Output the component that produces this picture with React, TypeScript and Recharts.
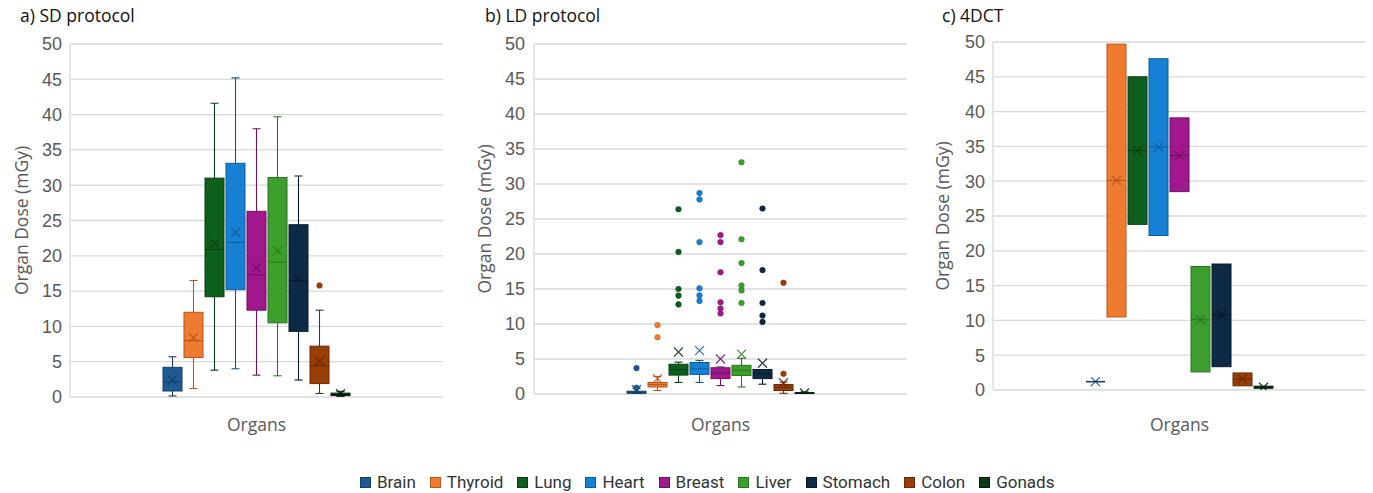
import React from 'react';
import { ComposedChart, Bar, XAxis, YAxis, CartesianGrid } from 'recharts';

const organs = ['Brain', 'Thyroid', 'Lung', 'Heart', 'Breast', 'Liver', 'Stomach', 'Colon', 'Gonads'];
const fills = ['#1F5A94', '#EE7B30', '#0E5E1E', '#1680D4', '#A0188C', '#3C9E2C', '#0F2A45', '#9A3D06', '#0C3A17'];
const strokes = ['#163F66', '#B8561C', '#083C12', '#0E5A99', '#6F0F61', '#2A731D', '#07182A', '#6A2904', '#051F0B'];
const yTicks = [0, 5, 10, 15, 20, 25, 30, 35, 40, 45, 50];

// a) SD protocol
const sdMin = [0.15, 1.2, 3.8, 4.0, 3.1, 3.0, 2.4, 0.5, 0.1];
const sdQ1 = [0.85, 5.6, 14.2, 15.2, 12.3, 10.5, 9.3, 1.9, 0.2];
const sdMedian = [2.1, 8.0, 20.9, 21.9, 17.3, 19.1, 16.5, 4.4, 0.35];
const sdQ3 = [4.2, 12.0, 31.0, 33.1, 26.3, 31.1, 24.4, 7.2, 0.55];
const sdMax = [5.7, 16.5, 41.6, 45.2, 38.0, 39.7, 31.3, 12.3, 0.8];
const sdMean = [2.4, 8.4, 21.8, 23.3, 18.3, 20.7, 16.8, 5.1, 0.45];
const sdOutliers = [[], [], [], [], [], [], [], [15.8], []];

// b) LD protocol
const ldMin = [0.05, 0.5, 1.65, 1.65, 1.2, 1.0, 1.4, 0.1, 0.0];
const ldQ1 = [0.1, 1.0, 2.7, 2.8, 2.2, 2.65, 2.2, 0.5, 0.05];
const ldMedian = [0.2, 1.35, 3.5, 3.6, 3.0, 3.4, 2.9, 0.9, 0.1];
const ldQ3 = [0.4, 1.65, 4.25, 4.5, 3.75, 4.1, 3.5, 1.35, 0.2];
const ldMax = [0.8, 2.5, 4.55, 4.8, 3.85, 5.1, 3.5, 1.7, 0.3];
const ldMean = [0.6, 2.2, 6.0, 6.2, 5.0, 5.7, 4.4, 1.6, 0.15];
const ldOutliers = [
  [3.7, 0.9],
  [9.85, 8.1],
  [26.4, 20.3, 15.0, 14.05, 12.8],
  [28.7, 27.8, 21.7, 15.1, 14.1, 13.3],
  [22.7, 21.7, 17.4, 13.1, 12.2, 11.5],
  [33.1, 22.1, 18.7, 15.5, 14.8, 13.0],
  [26.5, 17.7, 13.0, 11.2, 10.3],
  [15.9, 2.9],
  [],
];

// c) 4DCT
const ctLow = [1.2, 10.5, 23.8, 22.2, 28.5, 2.6, 3.35, 0.6, 0.25];
const ctMid = [1.2, 30.1, 34.4, 34.9, 33.7, 10.1, 10.8, 1.6, 0.4];
const ctHigh = [1.2, 49.7, 45.0, 47.6, 39.1, 17.75, 18.1, 2.45, 0.55];

type Row = {
  organ: string; min: number; q1: number; median: number; q3: number; max: number; mean: number;
  outliers: number[]; top: number; fill: string; stroke: string;
};

function buildRows(min: number[], q1: number[], median: number[], q3: number[], max: number[], mean: number[], outliers: number[][]): Row[] {
  return organs.map((organ, i) => ({
    organ,
    min: min[i], q1: q1[i], median: median[i], q3: q3[i], max: max[i], mean: mean[i],
    outliers: outliers[i],
    top: Math.max(max[i], mean[i], q3[i], ...outliers[i]),
    fill: fills[i], stroke: strokes[i],
  }));
}

const sdRows = buildRows(sdMin, sdQ1, sdMedian, sdQ3, sdMax, sdMean, sdOutliers);
const ldRows = buildRows(ldMin, ldQ1, ldMedian, ldQ3, ldMax, ldMean, ldOutliers);
const ctRows = buildRows(ctLow, ctLow, ctMid, ctHigh, ctHigh, ctMid, organs.map(() => []));

const BoxShape = (props: any) => {
  const { x, y, width, height, payload } = props;
  const p: Row = payload;
  if (!p || !p.top) return null;
  const k = height / p.top;
  const base = y + height;
  const Y = (v: number) => base - v * k;
  const cx = x + width / 2;
  const cap = 4;
  const m = 4.5;
  const yq1 = Y(p.q1);
  const yq3 = Y(p.q3);
  const boxH = Math.max(yq1 - yq3, 0);
  return (
    <g>
      {p.max > p.q3 && (
        <g stroke={p.stroke} strokeWidth={1.1}>
          <line x1={cx} x2={cx} y1={Y(p.max)} y2={yq3} />
          <line x1={cx - cap} x2={cx + cap} y1={Y(p.max)} y2={Y(p.max)} />
        </g>
      )}
      {p.min < p.q1 && (
        <g stroke={p.stroke} strokeWidth={1.1}>
          <line x1={cx} x2={cx} y1={yq1} y2={Y(p.min)} />
          <line x1={cx - cap} x2={cx + cap} y1={Y(p.min)} y2={Y(p.min)} />
        </g>
      )}
      {boxH > 0.5 ? (
        <rect x={x} y={yq3} width={width} height={boxH} fill={p.fill} stroke={p.stroke} strokeWidth={1} />
      ) : (
        <line x1={x} x2={x + width} y1={yq1} y2={yq1} stroke={p.stroke} strokeWidth={1.5} />
      )}
      <line x1={x} x2={x + width} y1={Y(p.median)} y2={Y(p.median)} stroke={p.stroke} strokeWidth={1} />
      <g stroke={p.stroke} strokeWidth={1.3} opacity={0.85}>
        <line x1={cx - m} x2={cx + m} y1={Y(p.mean) - m} y2={Y(p.mean) + m} />
        <line x1={cx - m} x2={cx + m} y1={Y(p.mean) + m} y2={Y(p.mean) - m} />
      </g>
      {p.outliers.map((o, j) => (
        <circle key={j} cx={cx} cy={Y(o)} r={2.8} fill={p.fill} stroke={p.stroke} strokeWidth={0.5} />
      ))}
    </g>
  );
};

const tickStyle = { fill: '#595959', fontSize: 18, fontFamily: '"Liberation Sans", Arial, sans-serif' };
const labelFont = '"Open Sans", "Noto Sans", sans-serif';

type PanelProps = {
  rows: Row[]; left: number; width: number; yAxisWidth: number; right: number; top: number; plotBottom: number;
  title: string; titleLeft: number; yLabelX: number; tickMargin: number;
};

function Panel({ rows, left, width, yAxisWidth, right, top, plotBottom, title, titleLeft, yLabelX, tickMargin }: PanelProps) {
  const H = 450;
  return (
    <>
      <div style={{ position: 'absolute', left: titleLeft, top: 3, fontFamily: labelFont, fontSize: 17.5, color: '#111', whiteSpace: 'nowrap' }}>
        {title}
      </div>
      <div style={{ position: 'absolute', left, top: 0 }}>
        <ComposedChart width={width} height={H} data={rows} margin={{ top, right, left: 0, bottom: 0 }}>
          <CartesianGrid vertical={false} stroke="#d9d9d9" strokeWidth={1.3} />
          <XAxis
            dataKey="organ"
            type="category"
            tick={false}
            tickLine={false}
            axisLine={false}
            height={H - plotBottom}
            padding={{ left: 92, right: 92 }}
            label={{ value: 'Organs', position: 'insideBottom', offset: 19, style: { fill: '#595959', fontSize: 17.5, fontFamily: labelFont } }}
          />
          <YAxis
            domain={[0, 50]}
            ticks={yTicks}
            width={yAxisWidth}
            tick={tickStyle}
            tickLine={false}
            tickMargin={tickMargin}
            axisLine={{ stroke: '#d9d9d9', strokeWidth: 1.3 }}
            allowDataOverflow
            label={{ value: 'Organ Dose (mGy)', angle: -90, position: 'insideLeft', offset: yLabelX, style: { textAnchor: 'middle', fill: '#595959', fontSize: 17.5, fontFamily: labelFont } }}
          />
          <Bar dataKey="top" barSize={19} shape={BoxShape} isAnimationActive={false} />
        </ComposedChart>
      </div>
    </>
  );
}

function Legend() {
  return (
    <div style={{ position: 'absolute', left: 360, top: 472, display: 'flex', alignItems: 'center', gap: 14, fontFamily: 'Roboto, sans-serif', fontSize: 17, color: '#333', whiteSpace: 'nowrap' }}>
      {organs.map((o, i) => (
        <div key={o} style={{ display: 'flex', alignItems: 'center', gap: 6 }}>
          <span style={{ display: 'inline-block', width: 9, height: 9, background: fills[i], border: `1px solid ${strokes[i]}` }} />
          <span>{o}</span>
        </div>
      ))}
    </div>
  );
}

export default function App() {
  return (
    <div style={{ position: 'absolute', left: 0, top: 0, width: 1373, height: 493, background: '#fff', overflow: 'hidden' }}>
      <Panel rows={sdRows} left={0} width={455} yAxisWidth={70} right={12} top={44} plotBottom={397}
        title="a) SD protocol" titleLeft={20} yLabelX={22} tickMargin={2} />
      <Panel rows={ldRows} left={460} width={460} yAxisWidth={74} right={13} top={44} plotBottom={394}
        title="b) LD protocol" titleLeft={485} yLabelX={25} tickMargin={3} />
      <Panel rows={ctRows} left={920} width={453} yAxisWidth={73} right={7} top={42} plotBottom={390}
        title="c) 4DCT" titleLeft={942} yLabelX={23} tickMargin={2} />
      <Legend />
    </div>
  );
}
